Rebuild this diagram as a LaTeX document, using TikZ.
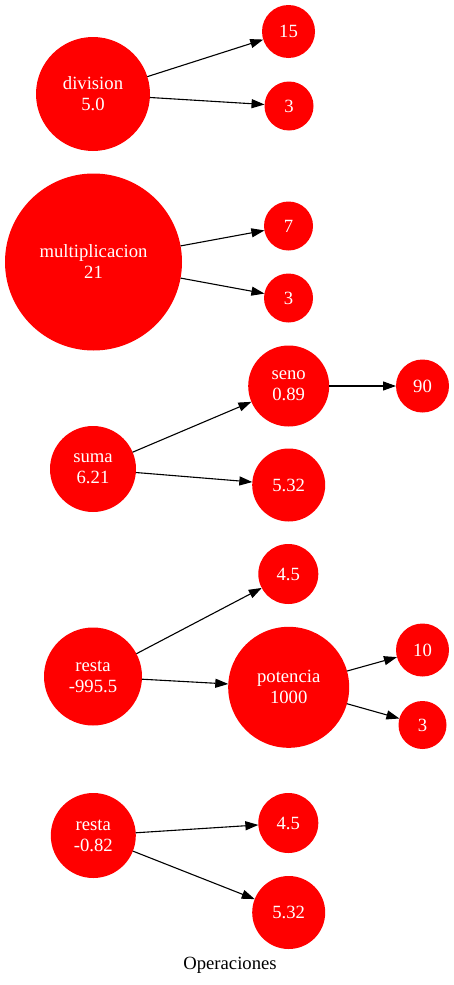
\documentclass[tikz,border=0pt]{standalone}
\usepackage{fontspec}
\setmainfont{Liberation Serif}
\usetikzlibrary{arrows.meta}
\definecolor{gvred}{RGB}{255,0,0}
\begin{document}
\begin{tikzpicture}[x=1pt,y=-1pt,
  opnode/.style={circle,fill=gvred,text=white,inner sep=0pt,outer sep=0pt,align=center,
    font=\fontsize{18.67}{21}\selectfont,minimum size=#1},
  edge/.style={draw=black,line width=1.1pt,-{Triangle[length=13pt,width=9pt]}}]
\useasboundingbox (0,0) rectangle (454,985);
% group 1
\node[opnode=114pt] (div) at (93,94) {division\\5.0};
\node[opnode=53pt] (d15) at (288.5,31.5) {15};
\node[opnode=49pt] (d3) at (289,106) {3};
\draw[edge] (div) -- (d15);
\draw[edge] (div) -- (d3);
% group 2
\node[opnode=177pt] (mul) at (93.5,262) {multiplicacion\\21};
\node[opnode=49pt] (m7) at (288.5,226) {7};
\node[opnode=49pt] (m3) at (288.5,298) {3};
\draw[edge] (mul) -- (m7);
\draw[edge] (mul) -- (m3);
% group 3
\node[opnode=86pt] (suma) at (93,469) {suma\\6.21};
\node[opnode=81pt] (seno) at (288.7,386) {seno\\0.89};
\node[opnode=53pt] (s90) at (422.5,386) {90};
\node[opnode=73pt] (s532) at (288.7,485) {5.32};
\draw[edge] (suma) -- (seno);
\draw[edge] (seno) -- (s90);
\draw[edge] (suma) -- (s532);
% group 4
\node[opnode=98pt] (resta1) at (93,676.5) {resta\\-995.5};
\node[opnode=60pt] (r45) at (288.3,574) {4.5};
\node[opnode=121pt] (pot) at (288.7,687.3) {potencia\\1000};
\node[opnode=53pt] (p10) at (422.5,650) {10};
\node[opnode=48pt] (p3) at (422.5,725) {3};
\draw[edge] (resta1) -- (r45);
\draw[edge] (resta1) -- (pot);
\draw[edge] (pot) -- (p10);
\draw[edge] (pot) -- (p3);
% group 5
\node[opnode=85pt] (resta2) at (93.3,835.5) {resta\\-0.82};
\node[opnode=60pt] (q45) at (288.3,823) {4.5};
\node[opnode=73pt] (q532) at (288.7,912.5) {5.32};
\draw[edge] (resta2) -- (q45);
\draw[edge] (resta2) -- (q532);
% title
\node[font=\fontsize{18.67}{21}\selectfont,anchor=base] (title) at (230,969) {Operaciones};
\end{tikzpicture}
\end{document}
